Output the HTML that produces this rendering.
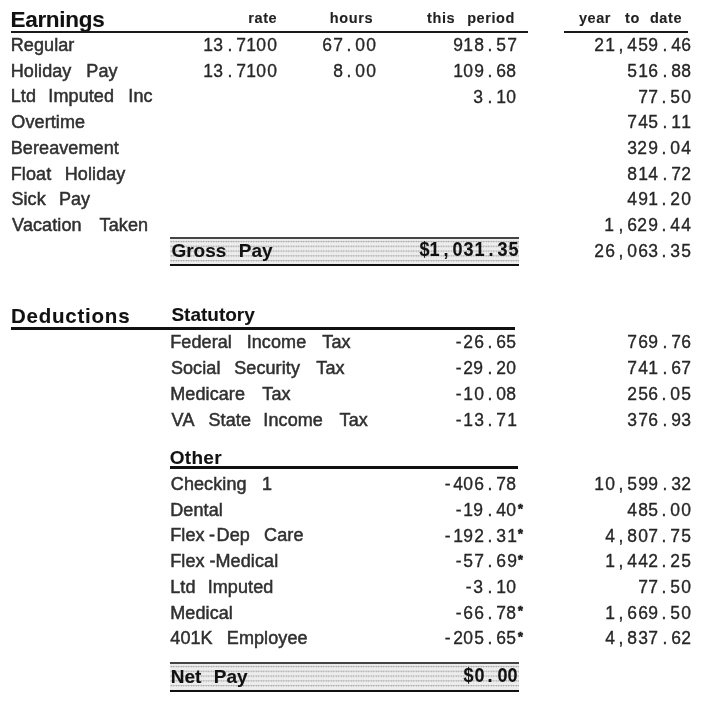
<!DOCTYPE html>
<html><head><meta charset="utf-8"><style>
html,body{margin:0;padding:0;background:#fff;width:720px;height:712px;overflow:hidden}
body{position:relative;font-family:"Liberation Sans",sans-serif;filter:blur(0.4px)}
.t,.n{position:absolute;line-height:1;white-space:nowrap;transform-origin:0 0;-webkit-text-stroke:0.5px currentColor}
.b{font-weight:bold;-webkit-text-stroke:0.1px currentColor}
.n i{display:inline-block;font-style:normal;text-align:center;transform:scaleX(0.93)}
.n{-webkit-text-stroke:0.35px currentColor}
.n.b{-webkit-text-stroke:0.1px currentColor}
.r{position:absolute}
</style></head><body>
<div class="t b" style="left:10.49px;top:9.25px;font-size:22.5px;color:#111;letter-spacing:-0.3px">Earnings</div>
<div class="r" style="left:11px;top:31px;width:517px;height:2px;background:#1a1a1a"></div>
<div class="r" style="left:564px;top:31px;width:124px;height:2px;background:#1a1a1a"></div>
<div class="t b" style="left:248.24px;top:11.05px;font-size:14.5px;color:#222;letter-spacing:0.6px">rate</div>
<div class="t b" style="left:329.79px;top:11.05px;font-size:14.5px;color:#222;letter-spacing:0.6px">hours</div>
<div class="t b" style="left:427.12px;top:11.05px;font-size:14.5px;color:#222;letter-spacing:0.6px">this</div>
<div class="t b" style="left:467.14px;top:11.05px;font-size:14.5px;color:#222;letter-spacing:0.6px">period</div>
<div class="t b" style="left:578.89px;top:11.25px;font-size:14.5px;color:#222;letter-spacing:0.6px">year</div>
<div class="t b" style="left:625.02px;top:11.25px;font-size:14.5px;color:#222;letter-spacing:0.6px">to</div>
<div class="t b" style="left:649.91px;top:11.25px;font-size:14.5px;color:#222;letter-spacing:0.6px">date</div>
<div class="t" style="left:10.72px;top:36.00px;font-size:18px;color:#303030;letter-spacing:0.1px">Regular</div>
<div class="t" style="left:10.72px;top:61.73px;font-size:18px;color:#303030;letter-spacing:0.1px">Holiday</div>
<div class="t" style="left:86.32px;top:61.73px;font-size:18px;color:#303030;letter-spacing:0.1px">Pay</div>
<div class="t" style="left:10.72px;top:87.46px;font-size:18px;color:#303030;letter-spacing:0.1px">Ltd</div>
<div class="t" style="left:48.34px;top:87.46px;font-size:18px;color:#303030;letter-spacing:0.1px">Imputed</div>
<div class="t" style="left:128.34px;top:87.46px;font-size:18px;color:#303030;letter-spacing:0.1px">Inc</div>
<div class="t" style="left:11.35px;top:113.19px;font-size:18px;color:#303030;letter-spacing:0.1px">Overtime</div>
<div class="t" style="left:10.72px;top:138.92px;font-size:18px;color:#303030;letter-spacing:0.1px">Bereavement</div>
<div class="t" style="left:10.72px;top:164.65px;font-size:18px;color:#303030;letter-spacing:0.1px">Float</div>
<div class="t" style="left:64.72px;top:164.65px;font-size:18px;color:#303030;letter-spacing:0.1px">Holiday</div>
<div class="t" style="left:11.38px;top:190.38px;font-size:18px;color:#303030;letter-spacing:0.1px">Sick</div>
<div class="t" style="left:58.92px;top:190.38px;font-size:18px;color:#303030;letter-spacing:0.1px">Pay</div>
<div class="t" style="left:12.12px;top:216.11px;font-size:18px;color:#303030;letter-spacing:0.1px">Vacation</div>
<div class="t" style="left:99.60px;top:216.11px;font-size:18px;color:#303030;letter-spacing:0.1px">Taken</div>
<div class="n" style="left:202.61px;top:36.10px;font-size:18.8px;color:#262626"><i>1</i><i>3</i><i style="width:12.00px">.</i><i>7</i><i>1</i><i>0</i><i>0</i></div>
<div class="n" style="left:322.23px;top:36.10px;font-size:18.8px;color:#262626"><i>6</i><i>7</i><i style="width:12.00px">.</i><i>0</i><i>0</i></div>
<div class="n" style="left:452.77px;top:36.10px;font-size:18.8px;color:#262626"><i>9</i><i>1</i><i>8</i><i style="width:12.00px">.</i><i>5</i><i>7</i></div>
<div class="n" style="left:594.24px;top:36.10px;font-size:18.8px;color:#262626"><i>2</i><i>1</i><i style="width:12.00px">,</i><i>4</i><i>5</i><i>9</i><i style="width:12.00px">.</i><i>4</i><i>6</i></div>
<div class="n" style="left:202.61px;top:61.83px;font-size:18.8px;color:#262626"><i>1</i><i>3</i><i style="width:12.00px">.</i><i>7</i><i>1</i><i>0</i><i>0</i></div>
<div class="n" style="left:332.68px;top:61.83px;font-size:18.8px;color:#262626"><i>8</i><i style="width:12.00px">.</i><i>0</i><i>0</i></div>
<div class="n" style="left:452.65px;top:61.83px;font-size:18.8px;color:#262626"><i>1</i><i>0</i><i>9</i><i style="width:12.00px">.</i><i>6</i><i>8</i></div>
<div class="n" style="left:627.15px;top:61.83px;font-size:18.8px;color:#262626"><i>5</i><i>1</i><i>6</i><i style="width:12.00px">.</i><i>8</i><i>8</i></div>
<div class="n" style="left:473.48px;top:87.56px;font-size:18.8px;color:#262626"><i>3</i><i style="width:12.00px">.</i><i>1</i><i>0</i></div>
<div class="n" style="left:637.53px;top:87.56px;font-size:18.8px;color:#262626"><i>7</i><i>7</i><i style="width:12.00px">.</i><i>5</i><i>0</i></div>
<div class="n" style="left:627.24px;top:113.29px;font-size:18.8px;color:#262626"><i>7</i><i>4</i><i>5</i><i style="width:12.00px">.</i><i>1</i><i>1</i></div>
<div class="n" style="left:626.90px;top:139.02px;font-size:18.8px;color:#262626"><i>3</i><i>2</i><i>9</i><i style="width:12.00px">.</i><i>0</i><i>4</i></div>
<div class="n" style="left:627.27px;top:164.75px;font-size:18.8px;color:#262626"><i>8</i><i>1</i><i>4</i><i style="width:12.00px">.</i><i>7</i><i>2</i></div>
<div class="n" style="left:627.07px;top:190.48px;font-size:18.8px;color:#262626"><i>4</i><i>9</i><i>1</i><i style="width:12.00px">.</i><i>2</i><i>0</i></div>
<div class="n" style="left:604.44px;top:216.21px;font-size:18.8px;color:#262626"><i>1</i><i style="width:12.00px">,</i><i>6</i><i>2</i><i>9</i><i style="width:12.00px">.</i><i>4</i><i>4</i></div>
<div class="r" style="left:170px;top:237px;width:349px;height:2px;background:#444"></div>
<div class="r" style="left:170px;top:239px;width:349px;height:25px;background-color:#ededed;background-image:radial-gradient(circle at 1.25px 2.5px,#a0a0a0 0.55px,transparent 1.1px);background-size:2.5px 4.8px;background-position:0 0"></div>
<div class="r" style="left:170px;top:264px;width:349px;height:2px;background:#111"></div>
<div class="t b" style="left:171.42px;top:240.50px;font-size:19px;color:#111">Gross</div>
<div class="t b" style="left:238.73px;top:240.50px;font-size:19px;color:#111">Pay</div>
<div class="n b" style="left:418.65px;top:239.60px;font-size:19.4px;color:#111"><i>$</i><i>1</i><i style="width:12.20px">,</i><i>0</i><i>3</i><i>1</i><i style="width:12.20px">.</i><i>3</i><i>5</i></div>
<div class="n" style="left:594.21px;top:242.40px;font-size:18.8px;color:#262626"><i>2</i><i>6</i><i style="width:12.00px">,</i><i>0</i><i>6</i><i>3</i><i style="width:12.00px">.</i><i>3</i><i>5</i></div>
<div class="t b" style="left:10.93px;top:306.25px;font-size:20.5px;color:#111;letter-spacing:0.78px">Deductions</div>
<div class="t b" style="left:171.45px;top:305.30px;font-size:19px;color:#111">Statutory</div>
<div class="r" style="left:11px;top:327px;width:504px;height:3px;background:#111"></div>
<div class="t" style="left:170.22px;top:332.70px;font-size:18px;color:#303030;letter-spacing:0.1px">Federal</div>
<div class="t" style="left:246.64px;top:332.70px;font-size:18px;color:#303030;letter-spacing:0.1px">Income</div>
<div class="t" style="left:322.30px;top:332.70px;font-size:18px;color:#303030;letter-spacing:0.1px">Tax</div>
<div class="n" style="left:453.58px;top:332.80px;font-size:18.8px;color:#262626"><i style="width:9.50px">-</i><i>2</i><i>6</i><i style="width:12.00px">.</i><i>6</i><i>5</i></div>
<div class="n" style="left:627.16px;top:332.80px;font-size:18.8px;color:#262626"><i>7</i><i>6</i><i>9</i><i style="width:12.00px">.</i><i>7</i><i>6</i></div>
<div class="t" style="left:170.88px;top:358.70px;font-size:18px;color:#303030;letter-spacing:0.1px">Social</div>
<div class="t" style="left:234.18px;top:358.70px;font-size:18px;color:#303030;letter-spacing:0.1px">Security</div>
<div class="t" style="left:316.30px;top:358.70px;font-size:18px;color:#303030;letter-spacing:0.1px">Tax</div>
<div class="n" style="left:453.53px;top:358.80px;font-size:18.8px;color:#262626"><i style="width:9.50px">-</i><i>2</i><i>9</i><i style="width:12.00px">.</i><i>2</i><i>0</i></div>
<div class="n" style="left:627.27px;top:358.80px;font-size:18.8px;color:#262626"><i>7</i><i>4</i><i>1</i><i style="width:12.00px">.</i><i>6</i><i>7</i></div>
<div class="t" style="left:170.22px;top:384.70px;font-size:18px;color:#303030;letter-spacing:0.1px">Medicare</div>
<div class="t" style="left:262.30px;top:384.70px;font-size:18px;color:#303030;letter-spacing:0.1px">Tax</div>
<div class="n" style="left:453.60px;top:384.80px;font-size:18.8px;color:#262626"><i style="width:9.50px">-</i><i>1</i><i>0</i><i style="width:12.00px">.</i><i>0</i><i>8</i></div>
<div class="n" style="left:627.12px;top:384.80px;font-size:18.8px;color:#262626"><i>2</i><i>5</i><i>6</i><i style="width:12.00px">.</i><i>0</i><i>5</i></div>
<div class="t" style="left:171.62px;top:410.70px;font-size:18px;color:#303030;letter-spacing:0.1px">VA</div>
<div class="t" style="left:208.48px;top:410.70px;font-size:18px;color:#303030;letter-spacing:0.1px">State</div>
<div class="t" style="left:263.34px;top:410.70px;font-size:18px;color:#303030;letter-spacing:0.1px">Income</div>
<div class="t" style="left:339.60px;top:410.70px;font-size:18px;color:#303030;letter-spacing:0.1px">Tax</div>
<div class="n" style="left:453.70px;top:410.80px;font-size:18.8px;color:#262626"><i style="width:9.50px">-</i><i>1</i><i>3</i><i style="width:12.00px">.</i><i>7</i><i>1</i></div>
<div class="n" style="left:627.16px;top:410.80px;font-size:18.8px;color:#262626"><i>3</i><i>7</i><i>6</i><i style="width:12.00px">.</i><i>9</i><i>3</i></div>
<div class="t b" style="left:169.72px;top:448.00px;font-size:19px;color:#111;letter-spacing:0.3px">Other</div>
<div class="r" style="left:170px;top:466px;width:348px;height:3px;background:#111"></div>
<div class="t" style="left:170.79px;top:475.00px;font-size:18px;color:#303030;letter-spacing:0.1px">Checking</div>
<div class="t" style="left:261.93px;top:475.00px;font-size:18px;color:#303030;letter-spacing:0.1px">1</div>
<div class="n" style="left:443.15px;top:475.10px;font-size:18.8px;color:#262626"><i style="width:9.50px">-</i><i>4</i><i>0</i><i>6</i><i style="width:12.00px">.</i><i>7</i><i>8</i></div>
<div class="n" style="left:594.36px;top:475.10px;font-size:18.8px;color:#262626"><i>1</i><i>0</i><i style="width:12.00px">,</i><i>5</i><i>9</i><i>9</i><i style="width:12.00px">.</i><i>3</i><i>2</i></div>
<div class="t" style="left:170.22px;top:500.70px;font-size:18px;color:#303030;letter-spacing:0.1px">Dental</div>
<div class="n" style="left:453.53px;top:500.80px;font-size:18.8px;color:#262626"><i style="width:9.50px">-</i><i>1</i><i>9</i><i style="width:12.00px">.</i><i>4</i><i>0</i></div>
<div class="t b" style="left:518.10px;top:502.65px;font-size:12.5px;color:#222;-webkit-text-stroke:0.7px #222">*</div>
<div class="n" style="left:627.07px;top:500.80px;font-size:18.8px;color:#262626"><i>4</i><i>8</i><i>5</i><i style="width:12.00px">.</i><i>0</i><i>0</i></div>
<div class="t" style="left:170.22px;top:526.40px;font-size:18px;color:#303030;letter-spacing:0.1px">Flex</div>
<div class="t" style="left:209.00px;top:526.40px;font-size:18px;color:#303030;letter-spacing:0.1px">-</div>
<div class="t" style="left:216.62px;top:526.40px;font-size:18px;color:#303030;letter-spacing:0.1px">Dep</div>
<div class="t" style="left:264.09px;top:526.40px;font-size:18px;color:#303030;letter-spacing:0.1px">Care</div>
<div class="n" style="left:443.24px;top:526.50px;font-size:18.8px;color:#262626"><i style="width:9.50px">-</i><i>1</i><i>9</i><i>2</i><i style="width:12.00px">.</i><i>3</i><i>1</i></div>
<div class="t b" style="left:518.10px;top:528.35px;font-size:12.5px;color:#222;-webkit-text-stroke:0.7px #222">*</div>
<div class="n" style="left:604.67px;top:526.50px;font-size:18.8px;color:#262626"><i>4</i><i style="width:12.00px">,</i><i>8</i><i>0</i><i>7</i><i style="width:12.00px">.</i><i>7</i><i>5</i></div>
<div class="t" style="left:170.22px;top:552.10px;font-size:18px;color:#303030;letter-spacing:0.1px">Flex</div>
<div class="t" style="left:209.40px;top:552.10px;font-size:18px;color:#303030;letter-spacing:0.1px">-</div>
<div class="t" style="left:215.52px;top:552.10px;font-size:18px;color:#303030;letter-spacing:0.1px">Medical</div>
<div class="n" style="left:453.67px;top:552.20px;font-size:18.8px;color:#262626"><i style="width:9.50px">-</i><i>5</i><i>7</i><i style="width:12.00px">.</i><i>6</i><i>9</i></div>
<div class="t b" style="left:518.10px;top:554.05px;font-size:12.5px;color:#222;-webkit-text-stroke:0.7px #222">*</div>
<div class="n" style="left:604.67px;top:552.20px;font-size:18.8px;color:#262626"><i>1</i><i style="width:12.00px">,</i><i>4</i><i>4</i><i>2</i><i style="width:12.00px">.</i><i>2</i><i>5</i></div>
<div class="t" style="left:170.22px;top:577.80px;font-size:18px;color:#303030;letter-spacing:0.1px">Ltd</div>
<div class="t" style="left:207.64px;top:577.80px;font-size:18px;color:#303030;letter-spacing:0.1px">Imputed</div>
<div class="n" style="left:463.98px;top:577.90px;font-size:18.8px;color:#262626"><i style="width:9.50px">-</i><i>3</i><i style="width:12.00px">.</i><i>1</i><i>0</i></div>
<div class="n" style="left:637.53px;top:577.90px;font-size:18.8px;color:#262626"><i>7</i><i>7</i><i style="width:12.00px">.</i><i>5</i><i>0</i></div>
<div class="t" style="left:170.22px;top:603.50px;font-size:18px;color:#303030;letter-spacing:0.1px">Medical</div>
<div class="n" style="left:453.60px;top:603.60px;font-size:18.8px;color:#262626"><i style="width:9.50px">-</i><i>6</i><i>6</i><i style="width:12.00px">.</i><i>7</i><i>8</i></div>
<div class="t b" style="left:518.10px;top:605.45px;font-size:12.5px;color:#222;-webkit-text-stroke:0.7px #222">*</div>
<div class="n" style="left:604.61px;top:603.60px;font-size:18.8px;color:#262626"><i>1</i><i style="width:12.00px">,</i><i>6</i><i>6</i><i>9</i><i style="width:12.00px">.</i><i>5</i><i>0</i></div>
<div class="t" style="left:170.29px;top:629.20px;font-size:18px;color:#303030;letter-spacing:0.1px">401K</div>
<div class="t" style="left:226.82px;top:629.20px;font-size:18px;color:#303030;letter-spacing:0.1px">Employee</div>
<div class="n" style="left:443.12px;top:629.30px;font-size:18.8px;color:#262626"><i style="width:9.50px">-</i><i>2</i><i>0</i><i>5</i><i style="width:12.00px">.</i><i>6</i><i>5</i></div>
<div class="t b" style="left:518.10px;top:631.15px;font-size:12.5px;color:#222;-webkit-text-stroke:0.7px #222">*</div>
<div class="n" style="left:604.81px;top:629.30px;font-size:18.8px;color:#262626"><i>4</i><i style="width:12.00px">,</i><i>8</i><i>3</i><i>7</i><i style="width:12.00px">.</i><i>6</i><i>2</i></div>
<div class="r" style="left:170px;top:662px;width:349px;height:2px;background:#444"></div>
<div class="r" style="left:170px;top:664px;width:349px;height:26px;background-color:#ededed;background-image:radial-gradient(circle at 1.25px 2.5px,#a0a0a0 0.55px,transparent 1.1px);background-size:2.5px 4.8px;background-position:0 0"></div>
<div class="r" style="left:170px;top:690px;width:349px;height:2px;background:#111"></div>
<div class="t b" style="left:170.73px;top:666.60px;font-size:19px;color:#111">Net</div>
<div class="t b" style="left:213.73px;top:666.60px;font-size:19px;color:#111">Pay</div>
<div class="n b" style="left:462.76px;top:665.60px;font-size:19.4px;color:#111"><i>$</i><i>0</i><i style="width:12.20px">.</i><i>0</i><i>0</i></div>
</body></html>
